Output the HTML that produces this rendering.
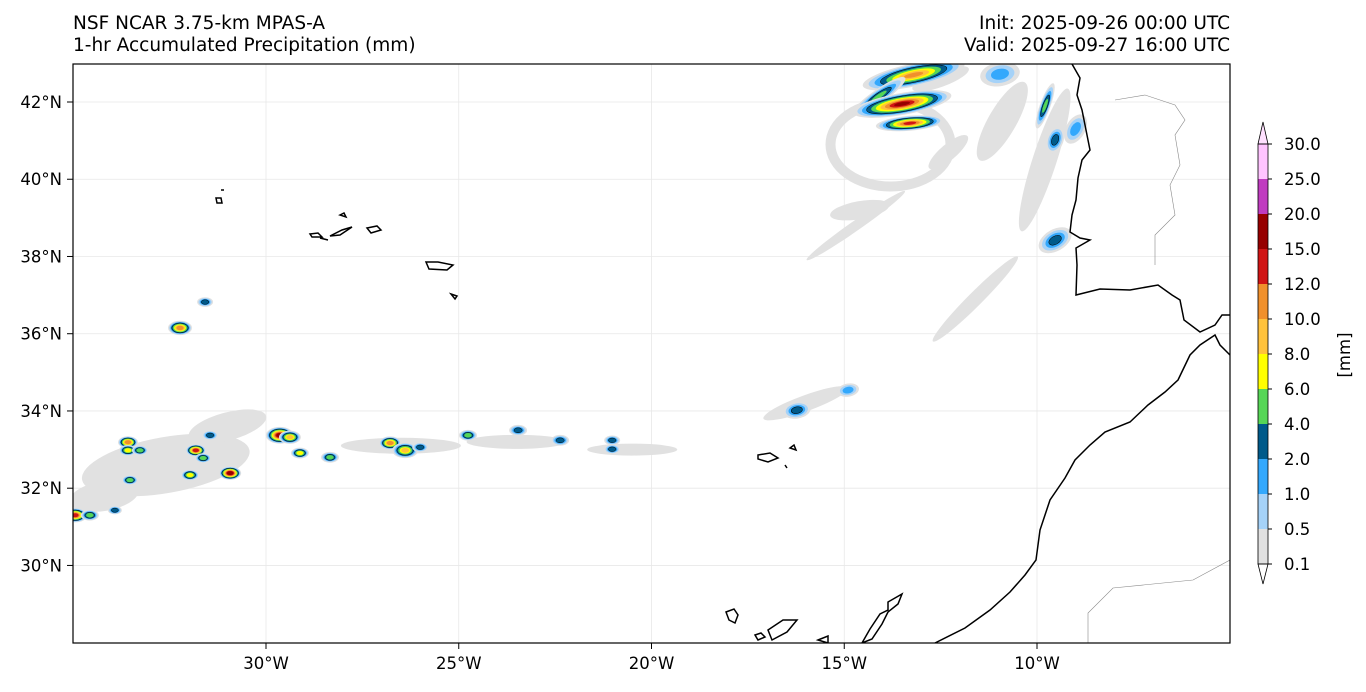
<!DOCTYPE html>
<html><head><meta charset="utf-8"><style>
body{margin:0;background:#fff;width:1366px;height:687px;overflow:hidden;font-family:"Liberation Sans","DejaVu Sans",sans-serif}
svg text{font-family:"DejaVu Sans","Liberation Sans",sans-serif;font-size:16.5px;fill:#000}
svg text.t{font-size:18.5px}
</style></head><body>
<svg id="s" width="1366" height="687">
<text class="t" x="73" y="29">NSF NCAR 3.75-km MPAS-A</text>
<text class="t" x="73" y="51">1-hr Accumulated Precipitation (mm)</text>
<text class="t" x="1230" y="29" text-anchor="end">Init: 2025-09-26 00:00 UTC</text>
<text class="t" x="1230" y="51" text-anchor="end">Valid: 2025-09-27 16:00 UTC</text>
<defs><clipPath id="c"><rect x="73" y="64" width="1157" height="579"/></clipPath></defs>
<g id="map" clip-path="url(#c)">
<g id="grid"></g>
<g id="grey"></g>
<g id="cells"></g>
<g fill="none" stroke="#000" stroke-width="1.5">
<polyline points="1072,64 1080,78 1077,95 1082,110 1086,130 1090,150 1082,160 1078,178 1076,200 1072,215 1070,232 1080,238 1090,240 1076,248 1077,265 1076,295 1100,289 1130,290 1158,285 1172,295 1180,300 1184,320 1200,332 1215,325 1222,315 1230,315"/>
<polyline points="1230,355 1220,345 1215,335 1200,345 1190,355 1178,380 1165,392 1148,405 1130,422 1105,432 1090,445 1075,460 1065,478 1050,500 1045,515 1040,530 1036,560 1025,575 1010,592 990,610 965,628 935,643"/>
<path d="M726,612 l8,-3 l4,6 l-3,8 l-6,-3z M755,635 l6,-2 l4,4 l-7,3z M768,630 l15,-10 l14,0 l-10,12 l-15,8z M818,640 l10,-4 l0,7z M862,643 l8,-14 l10,-15 l8,-4 l0,-8 l14,-8 l-4,10 l-10,8 l-6,12 l-10,15z M758,455 l12,-2 l8,5 l-10,4 l-10,-3z M785,465 l2,3 M790,448 l4,-3 l2,5z"/>
<path d="M426,262 l12,0 l15,3 l-6,5 l-18,-1z M451,294 l6,2 l-2,3z M367,228 l10,-2 l4,4 l-10,3z M330,236 l12,-6 l10,-3 l-12,8z M310,234 l8,-1 l4,4 l-10,0z M320,238 l8,2 M340,215 l4,-2 l2,4z M216,198 l5,0 l1,5 l-5,0z M221,190 l3,0"/>
</g>
<path d="M1115,100 l30,-5 l30,10 l10,15 l-10,15 l5,30 l-10,20 l5,30 l-20,20 l0,30 M1088,643 l0,-30 l25,-25 l80,-8 l37,-20" fill="none" stroke="#888" stroke-width="0.6"/>
</g>
<rect x="73" y="64" width="1157" height="579" fill="none" stroke="#000" stroke-width="1.2"/>
<g id="axes"></g>
<g id="cbar"></g>
<text transform="translate(1350,355) rotate(-90)" text-anchor="middle">[mm]</text>
</svg>
<script>
const NS="http://www.w3.org/2000/svg";
const colors=["#e1e1e1","#a5d2f8","#33a8fc","#005a8a","#56d656","#ffff00","#ffc23c","#f0902c","#d01414","#960000","#c03cc0","#ffc4ff"];
const cbLabels=["0.1","0.5","1.0","2.0","4.0","6.0","8.0","10.0","12.0","15.0","20.0","25.0","30.0"];
const lonTicks=[-30,-25,-20,-15,-10];
const latTicks=[30,32,34,36,38,40,42];
const cellLon=[-33.58,-33.58,-33.27,-33.53,-31.82,-31.63,-31.45,-31.97,-30.93,-29.64,-29.38,-29.12,-28.34,-26.78,-26.39,-26.0,-24.76,-23.46,-22.37,-21.02,-21.02,-34.95,-34.57,-33.92,-32.23,-31.58,-16.23,-14.9,-9.53,-13.2,-14.1,-13.5,-13.3,-9.79,-9.53,-10.96,-9.0];
const cellLat=[33.19,32.98,32.98,32.21,32.98,32.78,33.37,32.34,32.39,33.37,33.32,32.91,32.80,33.17,32.98,33.06,33.37,33.50,33.24,33.24,33.01,31.30,31.30,31.43,36.15,36.82,34.02,34.54,38.42,42.7,42.15,41.95,41.45,41.9,41.02,42.72,41.3];
const cellLev=[7,5,4,4,8,4,3,5,9,9,6,5,4,7,6,3,4,3,3,3,3,8,4,3,7,3,3,2,3,7,4,9,8,4,3,2,2];
const cellW=[8,7,6,6,8,6,6,7,9,12,9,7,7,9,11,6,7,7,7,6,6,10,7,5,10,6,12,9,16,50,30,48,32,22,12,18,14];
const cellRot=[0,0,0,0,0,0,0,0,0,0,0,0,0,0,0,0,0,0,0,0,0,0,0,0,0,0,-10,-10,-30,-12,-35,-10,-5,-70,-70,-10,-60];
const greyLon=[-32.6,-31.0,-34.2,-13.8,-14.6,-12.3,-11.6,-9.8,-10.9,-26.5,-23.5,-20.5,-16.0,-14.7,-12.5];
const greyLat=[32.6,33.6,31.8,40.9,39.2,40.7,36.9,40.5,41.5,33.1,33.2,33.0,34.2,38.8,42.6];
const greyW=[85,40,35,60,30,25,60,75,45,60,50,45,45,60,30];
const greyH=[28,14,15,42,9,8,7,12,14,8,7,6,8,5,8];
const greyRot=[-10,-15,-10,0,-10,-40,-45,-72,-60,0,0,0,-20,-35,-20];
const greyRing=[0,0,0,1,0,0,0,0,0,0,0,0,0,0,0];
const px=lon=>266+(lon+30)*38.55, py=lat=>102+(42-lat)*38.62;
function el(t,a,p){const e=document.createElementNS(NS,t);for(const k in a)e.setAttribute(k,a[k]);document.getElementById(p).appendChild(e);return e;}
lonTicks.forEach(v=>{
const e=el("line",{x1:px(v),x2:px(v),y1:64,y2:643,stroke:"#e8e8e8","stroke-width":0.8},"grid");


const t=el("line",{x1:px(v),x2:px(v),y1:643,y2:649,stroke:"#000"},"axes");


const l=el("text",{x:px(v),y:669,"text-anchor":"middle"},"axes");l.textContent=(-v)+"°W";

});
latTicks.forEach(v=>{
const e=el("line",{x1:73,x2:1230,y1:py(v),y2:py(v),stroke:"#e8e8e8","stroke-width":0.8},"grid");


const t=el("line",{x1:67,x2:73,y1:py(v),y2:py(v),stroke:"#000"},"axes");


const l=el("text",{x:62,y:py(v)+6,"text-anchor":"end"},"axes");l.textContent=v+"°N";

});
greyLon.forEach((v,i)=>{
const cx=px(v),cy=py(greyLat[i]);
const a={cx:cx,cy:cy,rx:greyW[i],ry:greyH[i],transform:`rotate(${greyRot[i]} ${cx} ${cy})`};
if(greyRing[i]){a.fill="none";a.stroke=colors[0];a["stroke-width"]=10;}else a.fill=colors[0];
const e=el("ellipse",a,"grey");

});
cellLon.forEach((v,i)=>{
const g=el("g",{},"cells");


const cx=px(v),cy=py(cellLat[i]);
g.setAttribute("transform",`rotate(${cellRot[i]} ${cx} ${cy})`);
const n=cellLev[i];
for(let k=0;k<=n;k++){const f=1-k/(n+1.3);const r=cellW[i]*f+2;
const e=document.createElementNS(NS,"ellipse");
e.setAttribute("cx",cx);e.setAttribute("cy",cy);e.setAttribute("rx",r);
e.setAttribute("ry",Math.max(1.5,r*(cellW[i]>20?0.22:0.6)));e.setAttribute("fill",colors[k]);
if(k===3){e.setAttribute("stroke","#000");e.setAttribute("stroke-width","0.5");}


g.appendChild(e);}});
const cbX=1258,cbW=10,cbStep=35;
for(let i=0;i<12;i++){const yb=564-cbStep*i;
const r=el("rect",{x:cbX,y:yb-cbStep,width:cbW,height:cbStep,fill:colors[i]},"cbar");

}
const up=el("polygon",{points:`${cbX},144 ${cbX+cbW},144 ${cbX+cbW/2},122`,fill:"#ffe0ff",stroke:"#000","stroke-width":0.8},"cbar");


const dn=el("polygon",{points:`${cbX},564 ${cbX+cbW},564 ${cbX+cbW/2},584`,fill:"#fff",stroke:"#000","stroke-width":0.8},"cbar");


const fr=el("rect",{x:cbX,y:144,width:cbW,height:420,fill:"none",stroke:"#000","stroke-width":0.8},"cbar");


cbLabels.forEach((b,i)=>{const yy=564-cbStep*i;if(yy<140)return;
const t=el("line",{x1:cbX+cbW,x2:cbX+cbW+4,y1:yy,y2:yy,stroke:"#000"},"cbar");


const l=el("text",{x:1284,y:yy+6},"cbar");l.textContent=b;

});
</script>
</body></html>
